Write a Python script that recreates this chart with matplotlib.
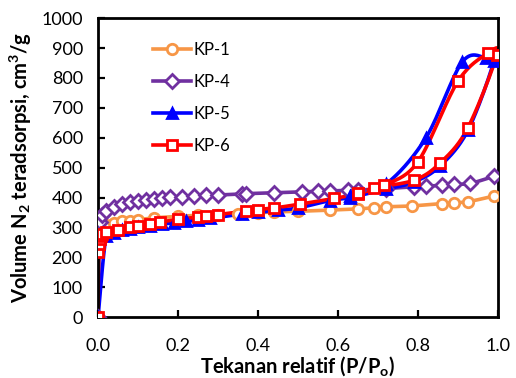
import numpy as np
import matplotlib
matplotlib.use("Agg")
import matplotlib.pyplot as plt
from matplotlib.lines import Line2D

plt.rcParams['font.family'] = ['Lato', 'DejaVu Sans']
plt.rcParams['mathtext.fontset'] = 'custom'
plt.rcParams['mathtext.rm'] = 'Lato'
plt.rcParams['mathtext.bf'] = 'Lato:bold'

# ---- data ----
kp1_x = [0.0, 0.002, 0.005, 0.01, 0.02, 0.04, 0.06, 0.08, 0.10, 0.14, 0.20, 0.25, 0.30,
         0.35, 0.40, 0.44, 0.50, 0.58, 0.65, 0.69, 0.72, 0.785, 0.86, 0.89, 0.925, 0.99]
kp1_y = [0, 275, 290, 300, 308, 315, 320, 323, 326, 332, 337, 341, 343,
         346, 349, 352, 354, 358, 362, 366, 369, 372, 380, 383, 386, 405]

kp4_x = [0.0, 0.004, 0.01, 0.02, 0.04, 0.06, 0.08, 0.10, 0.12, 0.14, 0.16, 0.18, 0.21,
         0.24, 0.27, 0.30, 0.36, 0.37, 0.44, 0.51, 0.55, 0.58, 0.625, 0.65, 0.72, 0.79,
         0.82, 0.86, 0.89, 0.93, 0.99]
kp4_y = [0, 318, 340, 355, 368, 377, 384, 389, 393, 396, 399, 401, 403,
         405, 407, 409, 412, 413, 416, 419, 421, 422, 424, 425, 430, 436,
         438, 441, 444, 447, 471]

kp5_x = [0.0, 0.02, 0.04, 0.06, 0.08, 0.10, 0.13, 0.16, 0.19, 0.22, 0.25, 0.28, 0.36,
         0.40, 0.45, 0.50, 0.58, 0.63, 0.72, 0.79, 0.855, 0.925, 0.99,
         0.97, 0.91, 0.82, 0.72, 0.63]
kp5_y = [0, 270, 283, 290, 295, 300, 306, 311, 316, 320, 325, 330, 345,
         350, 358, 365, 390, 400, 428, 452, 505, 625, 858,
         868, 852, 600, 445, 405]

kp6_x = [0.0, 0.001, 0.002, 0.004, 0.007, 0.01, 0.02, 0.05, 0.08, 0.10, 0.13, 0.155, 0.20,
         0.25, 0.27, 0.30, 0.37, 0.40, 0.44, 0.505, 0.59, 0.65, 0.69, 0.79, 0.855, 0.924, 0.997,
         0.975, 0.90, 0.80, 0.715, 0.65]
kp6_y = [0, 218, 245, 260, 270, 278, 285, 292, 300, 306, 313, 318, 327,
         335, 338, 343, 355, 360, 365, 378, 397, 412, 432, 458, 515, 631, 876,
         882, 789, 520, 441, 414]

labels = ['KP-1', 'KP-4', 'KP-5', 'KP-6']
colors = ['#F79646', '#7030A0', '#0000FF', '#FF0000']
markers = ['o', 'D', '^', 's']
faces = ['white', 'white', '#0000FF', 'white']
msizes = [7.5, 7, 7.5, 7.5]

x_ticks = [0.0, 0.2, 0.4, 0.6, 0.8, 1.0]
y_ticks = list(range(0, 1001, 100))


def smooth(xs, ys, n=20):
    """Catmull-Rom rendering of a line through the given points."""
    p = np.column_stack([xs, ys]).astype(float)
    scale = np.array([1.0, 1.0 / 1000.0])
    q = p * scale
    pts = np.vstack([q[0], q, q[-1]])
    out = []
    t = np.linspace(0, 1, n)[:, None]
    for i in range(1, len(pts) - 2):
        p0, p1, p2, p3 = pts[i - 1], pts[i], pts[i + 1], pts[i + 2]
        seg = 0.5 * ((2 * p1) + (-p0 + p2) * t
                     + (2 * p0 - 5 * p1 + 4 * p2 - p3) * t ** 2
                     + (-p0 + 3 * p1 - 3 * p2 + p3) * t ** 3)
        out.append(seg)
    c = np.vstack(out) / scale
    return c[:, 0], c[:, 1]


fig = plt.figure(figsize=(5.16, 3.78), dpi=100)
ax = fig.add_axes([0.19, 0.161, 0.775, 0.791])

series = [(kp1_x, kp1_y), (kp4_x, kp4_y), (kp5_x, kp5_y), (kp6_x, kp6_y)]
handles = []
for (xs, ys), lab, col, mk, fc, ms in zip(series, labels, colors, markers, faces, msizes):
    cx, cy = smooth(xs, ys)
    ax.plot(cx, cy, color=col, lw=2.6, solid_capstyle='round', zorder=2)
    ax.plot(xs, ys, ls='none', marker=mk, ms=ms, mfc=fc, mec=col, mew=2.0, zorder=3)
    handles.append(Line2D([], [], color=col, lw=2.6, marker=mk, ms=ms, mfc=fc,
                          mec=col, mew=2.0))

ax.set_xlim(0, 1.0)
ax.set_ylim(0, 1000)
ax.set_xticks(x_ticks)
ax.set_xticklabels([f"{v:.1f}" for v in x_ticks])
ax.set_yticks(y_ticks)
ax.set_yticklabels([str(v) for v in y_ticks])
ax.tick_params(direction='in', length=5, width=1.6, labelsize=13, colors='black')
ax.tick_params(axis='x', pad=15)
ax.tick_params(axis='y', pad=11)
for s in ax.spines.values():
    s.set_linewidth(2.0)

ax.set_xlabel(r"Tekanan relatif (P/P$_\mathbf{o}$)", fontsize=14.5, fontweight='bold',
              labelpad=0)
ax.set_ylabel(r"Volume N$_\mathbf{2}$ teradsorpsi, cm$^\mathbf{3}$/g", fontsize=14.5,
              fontweight='bold', labelpad=5)

leg = ax.legend(handles, labels, loc='upper left', bbox_to_anchor=(0.10, 0.97),
                frameon=False, fontsize=12, handlelength=2.3, handletextpad=0.1,
                labelspacing=0.95)

fig.savefig("out.png", dpi=100)
